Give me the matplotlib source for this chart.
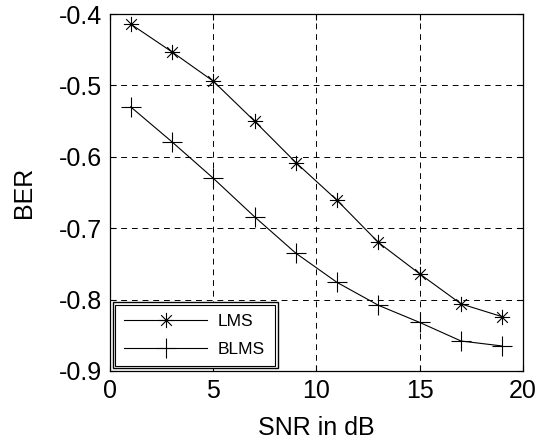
import matplotlib
matplotlib.use("Agg")
import matplotlib.pyplot as plt
from matplotlib.path import Path
from matplotlib.patches import Rectangle

plt.rcParams["font.family"] = ["Liberation Sans", "DejaVu Sans"]

# ---- data ----
snr_db   = [1, 3, 5, 7, 9, 11, 13, 15, 17, 19]
ber_lms  = [-0.414, -0.453, -0.494, -0.550, -0.608, -0.661, -0.720, -0.764, -0.806, -0.824]
ber_blms = [-0.530, -0.579, -0.630, -0.684, -0.735, -0.776, -0.808, -0.832, -0.858, -0.865]

x_ticks = [0, 5, 10, 15, 20]
y_ticks = [-0.9, -0.8, -0.7, -0.6, -0.5, -0.4]

# MATLAB style asterisk: plus and cross together
star = Path(
    [(-1, 0), (1, 0), (0, -1), (0, 1),
     (-0.7, -0.7), (0.7, 0.7), (-0.7, 0.7), (0.7, -0.7)],
    [Path.MOVETO, Path.LINETO] * 4,
)

fig = plt.figure(figsize=(5.4, 4.45), dpi=100)
ax = fig.add_axes([0.2037, 0.1663, 0.7648, 0.8022])

ax.plot(snr_db, ber_lms, color="black", lw=0.8, marker=star,
        markersize=11, markeredgewidth=0.8, label="LMS")
ax.plot(snr_db, ber_blms, color="black", lw=0.8, marker="+",
        markersize=14, markeredgewidth=0.8, label="BLMS")

ax.set_xlim(0, 20)
ax.set_ylim(-0.9, -0.4)
ax.set_xticks(x_ticks)
ax.set_yticks(y_ticks)
ax.set_yticklabels([f"{v:.1f}" for v in y_ticks])
ax.tick_params(direction="in", top=True, right=True, labelsize=18,
               length=4, width=0.8, pad=6)

ax.grid(True, color="black", linestyle=(0, (6, 5)), linewidth=0.7)
for s in ax.spines.values():
    s.set_linewidth(0.9)

ax.set_xlabel("SNR in dB", fontsize=18, labelpad=9)
ax.set_ylabel("BER", fontsize=18, labelpad=16)

leg = ax.legend(loc="lower left", bbox_to_anchor=(0.0065, 0.008, 0.40, 0.176),
                mode="expand", borderaxespad=0, fontsize=12.5, handlelength=4.8,
                handletextpad=0.6, fancybox=False, framealpha=1,
                edgecolor="black", borderpad=0.65, labelspacing=0.75)
leg.get_frame().set_linewidth(1.0)

# MATLAB-like double border on the legend
fig.canvas.draw()
bb = leg.get_frame().get_window_extent().transformed(fig.transFigure.inverted())
dx, dy = 2.5 / 540, 2.5 / 445
fig.add_artist(Rectangle((bb.x0 + dx, bb.y0 + dy), bb.width - 2 * dx, bb.height - 2 * dy,
                         transform=fig.transFigure, fill=False, edgecolor="black",
                         linewidth=0.8, zorder=10))

fig.savefig("out.png", dpi=100)
